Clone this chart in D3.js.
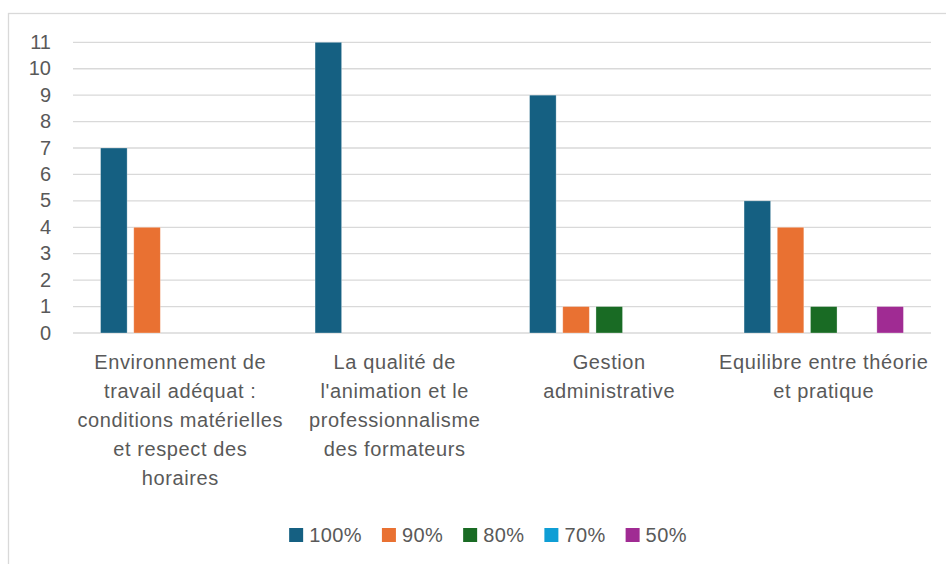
<!DOCTYPE html>
<html>
<head>
<meta charset="utf-8">
<script src="https://cdn.jsdelivr.net/npm/d3@7"></script>
<style>
  html, body { margin: 0; padding: 0; background: #fff; }
  svg text { font-family: "Liberation Sans", Arial, sans-serif; fill: #595959; }
</style>
</head>
<body>
<svg id="chart" width="946" height="564"></svg>
<script>
// ---- data ----
const categories = [
  ["Environnement de", "travail adéquat :", "conditions matérielles", "et respect des", "horaires"],
  ["La qualité de", "l'animation et le", "professionnalisme", "des formateurs"],
  ["Gestion", "administrative"],
  ["Equilibre entre théorie", "et pratique"]
];
const seriesNames = ["100%", "90%", "80%", "70%", "50%"];
const seriesColors = ["#156082", "#E97132", "#196B24", "#0F9ED5", "#A02B93"];
const v100 = [7, 11, 9, 5];
const v90  = [4, 0, 1, 4];
const v80  = [0, 0, 1, 1];
const v70  = [0, 0, 0, 0];
const v50  = [0, 0, 0, 1];
const yTicks = [0, 1, 2, 3, 4, 5, 6, 7, 8, 9, 10, 11];

const seriesValues = [v100, v90, v80, v70, v50];

(function () {
const svg = d3.select("#chart");
const plotL = 73, plotR = 931, plotT = 42.3, plotB = 333;

// frame
svg.append("rect").attr("x", 8.5).attr("y", 13.5).attr("width", 960).attr("height", 600)
  .attr("fill", "none").attr("stroke", "#d9d9d9").attr("stroke-width", 1.3);

const y = d3.scaleLinear().domain([0, 11]).range([plotB, plotT]);
const x0 = d3.scaleBand().domain(d3.range(categories.length)).range([plotL, plotR]).padding(0);
const x1 = d3.scaleBand().domain(d3.range(seriesNames.length)).range([0, x0.bandwidth()])
  .paddingInner(0.2).paddingOuter(0.83);

// gridlines
svg.append("g").selectAll("line").data(yTicks).join("line")
  .attr("x1", plotL).attr("x2", plotR)
  .attr("y1", d => y(d)).attr("y2", d => y(d))
  .attr("stroke", "#d9d9d9").attr("stroke-width", 1.3);

// y axis labels
const yAxis = d3.axisLeft(y).tickValues(yTicks).tickSize(0).tickPadding(0).tickFormat(d3.format("d"));
const ga = svg.append("g").attr("transform", `translate(51,0)`).call(yAxis);
ga.select(".domain").remove();
ga.attr("font-family", null).attr("font-size", null);
ga.selectAll("text").attr("font-size", "20px")
  .attr("fill", "#595959").attr("dy", "0.3em").attr("x", 0);

// bars
const rows = [];
categories.forEach((c, ci) => seriesValues.forEach((vals, si) => {
  rows.push({ ci, si, v: vals[ci] });
}));
svg.append("g").selectAll("rect").data(rows.filter(d => d.v > 0)).join("rect")
  .attr("x", d => x0(d.ci) + x1(d.si))
  .attr("width", x1.bandwidth())
  .attr("y", d => y(d.v))
  .attr("height", d => y(0) - y(d.v))
  .attr("fill", d => seriesColors[d.si])
  .attr("stroke", "#ffffff").attr("stroke-opacity", 0.4).attr("stroke-width", 0.75);

// category labels
const cg = svg.append("g");
categories.forEach((lines, ci) => {
  const cxm = x0(ci) + x0.bandwidth() / 2;
  const t = cg.append("text")
    .attr("text-anchor", "middle")
    .attr("font-size", "20px")
    .attr("letter-spacing", "0.6px")
    .attr("x", cxm)
    .attr("y", 369);
  lines.forEach((ln, i) => {
    t.append("tspan").attr("x", cxm)
      .attr("dy", i === 0 ? 0 : 29).text(ln);
  });
});

// legend
const lg = svg.append("g");
let cx = 0;
seriesNames.forEach((n, i) => {
  const g = lg.append("g");
  g.append("rect").attr("x", cx).attr("y", 528).attr("width", 14).attr("height", 14)
    .attr("fill", seriesColors[i]);
  const t = g.append("text").attr("x", cx + 20).attr("y", 542)
    .attr("font-size", "20px").attr("letter-spacing", "0.4px").text(n);
  const w = t.node().getComputedTextLength();
  cx += 20 + w + 20;
});
const totalW = cx - 20;
lg.attr("transform", `translate(${488 - totalW / 2},0)`);
})();
</script>
</body>
</html>
